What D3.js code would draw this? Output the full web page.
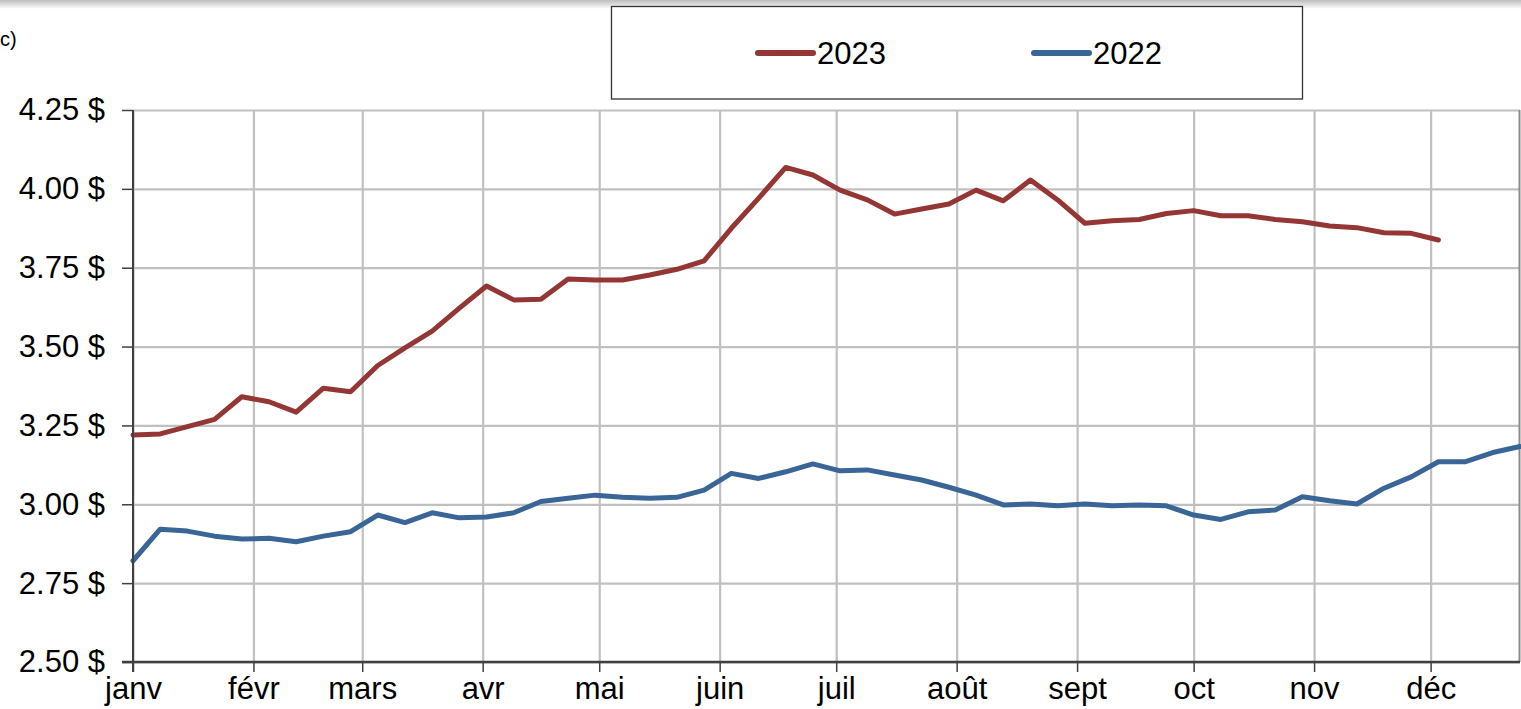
<!DOCTYPE html>
<html>
<head>
<meta charset="utf-8">
<script src="https://cdn.jsdelivr.net/npm/d3@7"></script>
<style>
  html, body { margin: 0; padding: 0; background: #fff; }
  svg { display: block; font-family: "Liberation Sans", Arial, sans-serif; }
</style>
</head>
<body>
<svg id="chart" width="1521" height="709"></svg>
<script>
// ---- data ----
const weekDates = [
  "2022-01-01","2022-01-08","2022-01-15","2022-01-22","2022-01-29","2022-02-05","2022-02-12","2022-02-19",
  "2022-02-26","2022-03-05","2022-03-12","2022-03-19","2022-03-26","2022-04-02","2022-04-09","2022-04-16",
  "2022-04-23","2022-04-30","2022-05-07","2022-05-14","2022-05-21","2022-05-28","2022-06-04","2022-06-11",
  "2022-06-18","2022-06-25","2022-07-02","2022-07-09","2022-07-16","2022-07-23","2022-07-30","2022-08-06",
  "2022-08-13","2022-08-20","2022-08-27","2022-09-03","2022-09-10","2022-09-17","2022-09-24","2022-10-01",
  "2022-10-08","2022-10-15","2022-10-22","2022-10-29","2022-11-05","2022-11-12","2022-11-19","2022-11-26",
  "2022-12-03","2022-12-10","2022-12-17","2022-12-24"
];
const series2022 = [
  2.821,2.921,2.915,2.899,2.890,2.892,2.881,2.899,2.913,2.966,2.942,2.973,2.957,2.960,2.973,3.009,
  3.019,3.029,3.022,3.019,3.022,3.045,3.098,3.082,3.103,3.128,3.106,3.109,3.093,3.077,3.054,3.029,
  2.998,3.001,2.995,3.001,2.995,2.998,2.995,2.966,2.952,2.976,2.982,3.024,3.011,3.001,3.051,3.087,
  3.135,3.135,3.164,3.183
];
const series2023 = [
  3.220,3.223,3.246,3.269,3.341,3.325,3.292,3.368,3.357,3.440,3.496,3.549,3.622,3.692,3.648,3.650,
  3.714,3.711,3.711,3.727,3.745,3.772,3.875,3.970,4.068,4.044,3.996,3.965,3.920,3.936,3.952,3.996,
  3.962,4.028,3.965,3.891,3.899,3.903,3.922,3.931,3.915,3.915,3.903,3.896,3.882,3.877,3.861,3.859,
  3.838
];
const monthStarts = ["2022-01-01","2022-02-01","2022-03-01","2022-04-01","2022-05-01","2022-06-01",
  "2022-07-01","2022-08-01","2022-09-01","2022-10-01","2022-11-01","2022-12-01"];
const monthLabels = ["janv","févr","mars","avr","mai","juin","juil","août","sept","oct","nov","déc"];
const yTicks = [2.50, 2.75, 3.00, 3.25, 3.50, 3.75, 4.00, 4.25];
const seriesNames = ["2023", "2022"];
const seriesColors = ["#943634", "#3a6597"];

(function () {
// ---- layout ----
const svg = d3.select("#chart");
const W = 1521;
const pL = 133, pR = 1520, pT = 110, pB = 662;
const parse = d3.utcParse("%Y-%m-%d");
const dates = weekDates.map(parse);
const months = monthStarts.map(parse);

const x = d3.scaleUtc().domain([dates[0], dates[dates.length - 1]]).range([pL, pR]);
const y = d3.scaleLinear().domain([2.5, 4.25]).range([pB, pT]);

// top shadow band
const defs = svg.append("defs");
const grad = defs.append("linearGradient").attr("id", "topShade").attr("x1", 0).attr("y1", 0).attr("x2", 0).attr("y2", 1);
grad.append("stop").attr("offset", "0%").attr("stop-color", "#bdbdbd");
grad.append("stop").attr("offset", "100%").attr("stop-color", "#ffffff");
svg.append("rect").attr("x", 0).attr("y", 0).attr("width", W).attr("height", 9).attr("fill", "url(#topShade)");

// partial axis title at top-left
svg.append("text").attr("x", 0).attr("y", 46).attr("text-anchor", "start")
  .attr("font-size", 20).attr("fill", "#000").text("c)");

// grid lines
const gx = svg.append("g").attr("transform", `translate(0,${pB})`)
  .call(d3.axisBottom(x).tickValues(months).tickSize(-(pB - pT)).tickFormat(""));
gx.select(".domain").remove();
gx.selectAll("line").attr("stroke", "#c0c0c0").attr("stroke-width", 2.2);

const gy = svg.append("g").attr("transform", `translate(${pL},0)`)
  .call(d3.axisLeft(y).tickValues(yTicks).tickSize(-(pR - pL)).tickFormat(""));
gy.select(".domain").remove();
gy.selectAll("line").attr("stroke", "#c0c0c0").attr("stroke-width", 2.2);

// right border
svg.append("line").attr("x1", pR - 0.5).attr("x2", pR - 0.5).attr("y1", pT).attr("y2", pB)
  .attr("stroke", "#8c8c8c").attr("stroke-width", 2);

// lines
const line = d3.line().x((d, i) => x(dates[i])).y(d => y(d));
[series2023, series2022].forEach((s, k) => {
  svg.append("path").datum(s).attr("d", line).attr("fill", "none")
    .attr("stroke", seriesColors[k]).attr("stroke-width", 5)
    .attr("stroke-linejoin", "round").attr("stroke-linecap", "round");
});

// axes
const yAxis = svg.append("g").attr("transform", `translate(${pL},0)`)
  .call(d3.axisLeft(y).tickValues(yTicks).tickSize(11).tickPadding(17)
    .tickFormat(d => d.toFixed(2) + " $"));
yAxis.select(".domain").remove();
yAxis.selectAll("line").attr("stroke", "#404040").attr("stroke-width", 1.5);
yAxis.selectAll("text").attr("font-size", 31).attr("fill", "#000")
  .attr("font-family", "Liberation Sans, Arial, sans-serif");

const xAxis = svg.append("g").attr("transform", `translate(0,${pB})`)
  .call(d3.axisBottom(x).tickValues(months).tickSize(10).tickPadding(5)
    .tickFormat((d, i) => monthLabels[i]));
xAxis.select(".domain").remove();
xAxis.selectAll("line").attr("stroke", "#404040").attr("stroke-width", 1.5);
xAxis.selectAll("text").attr("font-size", 31).attr("fill", "#000")
  .attr("font-family", "Liberation Sans, Arial, sans-serif");

// axis lines
svg.append("line").attr("x1", pL).attr("x2", pL).attr("y1", pT).attr("y2", pB + 10)
  .attr("stroke", "#404040").attr("stroke-width", 2);
svg.append("line").attr("x1", pL - 11).attr("x2", pR).attr("y1", pB).attr("y2", pB)
  .attr("stroke", "#404040").attr("stroke-width", 2.5);

// legend
svg.append("rect").attr("x", 611.5).attr("y", 6.5).attr("width", 691).attr("height", 92.5)
  .attr("fill", "#fff").attr("stroke", "#333").attr("stroke-width", 1.3);
const legendX = [758, 1034];
seriesNames.forEach((n, k) => {
  const g = svg.append("g").attr("transform", `translate(${legendX[k]},53)`);
  g.append("line").attr("x1", 0).attr("x2", 55).attr("y1", 0).attr("y2", 0)
    .attr("stroke", seriesColors[k]).attr("stroke-width", 6).attr("stroke-linecap", "round");
  g.append("text").attr("x", 59).attr("y", 0).attr("dy", "0.36em")
    .attr("font-size", 31).attr("fill", "#000").text(n);
});
})();
</script>
</body>
</html>
